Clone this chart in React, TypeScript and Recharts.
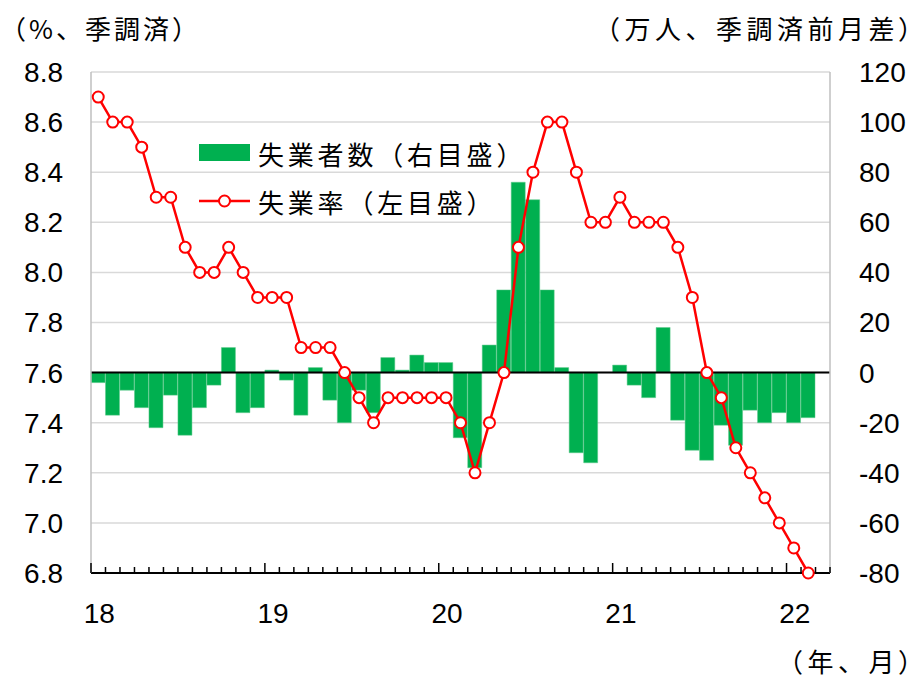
import { Bar, CartesianGrid, ComposedChart, Legend, Line, ReferenceLine, XAxis, YAxis } from 'recharts'

// months Jan 2018 .. Mar 2022 (last slot is empty)
const months = [
  '18/01', '18/02', '18/03', '18/04', '18/05', '18/06', '18/07', '18/08', '18/09', '18/10', '18/11', '18/12',
  '19/01', '19/02', '19/03', '19/04', '19/05', '19/06', '19/07', '19/08', '19/09', '19/10', '19/11', '19/12',
  '20/01', '20/02', '20/03', '20/04', '20/05', '20/06', '20/07', '20/08', '20/09', '20/10', '20/11', '20/12',
  '21/01', '21/02', '21/03', '21/04', '21/05', '21/06', '21/07', '21/08', '21/09', '21/10', '21/11', '21/12',
  '22/01', '22/02', '22/03',
]

// 失業率 (%, left axis)
const unemploymentRate = [
  8.7, 8.6, 8.6, 8.5, 8.3, 8.3, 8.1, 8.0, 8.0, 8.1, 8.0, 7.9,
  7.9, 7.9, 7.7, 7.7, 7.7, 7.6, 7.5, 7.4, 7.5, 7.5, 7.5, 7.5,
  7.5, 7.4, 7.2, 7.4, 7.6, 8.1, 8.4, 8.6, 8.6, 8.4, 8.2, 8.2,
  8.3, 8.2, 8.2, 8.2, 8.1, 7.9, 7.6, 7.5, 7.3, 7.2, 7.1, 7.0,
  6.9, 6.8,
]

// 失業者数 前月差 (万人, right axis)
const unemployedChange = [
  -4, -17, -7, -14, -22, -9, -25, -14, -5, 10, -16, -14,
  1, -3, -17, 2, -11, -20, -7, -16, 6, 1, 7, 4,
  4, -26, -38, 11, 33, 76, 69, 33, 2, -32, -36, 0,
  3, -5, -10, 18, -19, -31, -35, -21, -29, -15, -20, -16,
  -20, -18,
]

const leftTicks = [6.8, 7.0, 7.2, 7.4, 7.6, 7.8, 8.0, 8.2, 8.4, 8.6, 8.8]
const rightTicks = [-80, -60, -40, -20, 0, 20, 40, 60, 80, 100, 120]

const data = months.map((m, i) => ({
  month: m,
  rate: unemploymentRate[i],
  change: unemployedChange[i],
}))

const JP_FONT = '"Noto Sans CJK JP", "Noto Sans", sans-serif'
const NUM_FONT = '"Liberation Sans", Arial, sans-serif'

const noteStyle = {
  position: 'absolute' as const,
  fontFamily: JP_FONT,
  fontSize: 26,
  letterSpacing: 3,
  lineHeight: '30px',
  color: '#000',
  whiteSpace: 'nowrap' as const,
}

// closing paren without trailing blank, so right-aligned notes end at the ink
const tightParen = { fontFeatureSettings: '"palt"', letterSpacing: 0 }

function MonthTick(props: any) {
  const { x, y, payload, index, visibleTicksCount, width } = props
  const half = typeof payload.offset === 'number' && payload.offset > 0 ? payload.offset : width / visibleTicksCount / 2
  const [yy, mm] = String(payload.value).split('/')
  const isJan = mm === '01'
  const left = x - half
  return (
    <g>
      <line x1={left} x2={left} y1={y} y2={y - (isJan ? 10 : 6)} stroke="#000" strokeWidth={1.5} />
      {index === visibleTicksCount - 1 && (
        <line x1={x + half} x2={x + half} y1={y} y2={y - 6} stroke="#000" strokeWidth={1.5} />
      )}
      {isJan && (
        <text x={x + 1} y={y + 50} textAnchor="middle" fontSize={28} fill="#000" fontFamily={NUM_FONT}>
          {yy}
        </text>
      )}
    </g>
  )
}

function LegendBox() {
  const row = { display: 'flex', alignItems: 'center', height: 32, fontFamily: JP_FONT, fontSize: 26, letterSpacing: 3.8, color: '#000', whiteSpace: 'nowrap' as const }
  return (
    <div>
      <div style={row}>
        <svg width={59} height={32}>
          <rect x={0} y={7} width={51} height={17} fill="#00b050" />
        </svg>
        <span>失業者数（右目盛）</span>
      </div>
      <div style={{ ...row, marginTop: 16 }}>
        <svg width={59} height={32}>
          <line x1={0} x2={51} y1={16} y2={16} stroke="#ff0000" strokeWidth={2.5} />
          <circle cx={25.5} cy={16} r={5.5} fill="#fff" stroke="#ff0000" strokeWidth={2} />
        </svg>
        <span>失業率（左目盛）</span>
      </div>
    </div>
  )
}

export default function App() {
  return (
    <div style={{ position: 'absolute', left: 0, top: 0, width: 916, height: 681, background: '#fff', overflow: 'hidden' }}>
      <div style={{ ...noteStyle, left: 0, top: 13 }}>（%、季調済）</div>
      <div style={{ ...noteStyle, right: 4, top: 13, letterSpacing: 4.5 }}>
        （万人、季調済前月差<span style={tightParen}>）</span>
      </div>
      <div style={{ ...noteStyle, right: 4, top: 646, letterSpacing: 4.5 }}>
        （年、月<span style={tightParen}>）</span>
      </div>
      <ComposedChart
        width={916}
        height={681}
        data={data}
        margin={{ top: 72, right: 0, bottom: 48, left: 0 }}
        barCategoryGap={0}
        barGap={0}
      >
        <CartesianGrid yAxisId="left" vertical={false} stroke="#d9d9d9" strokeWidth={1.5} />
        <XAxis
          dataKey="month"
          interval={0}
          height={60}
          tickSize={0}
          tickMargin={0}
          tickLine={false}
          axisLine={{ stroke: '#000', strokeWidth: 2 }}
          tick={<MonthTick />}
        />
        <YAxis
          yAxisId="left"
          width={91}
          domain={[6.8, 8.8]}
          ticks={leftTicks}
          interval={0}
          tickSize={0}
          tickMargin={28}
          tickLine={false}
          axisLine={{ stroke: '#bfbfbf', strokeWidth: 1.5 }}
          tickFormatter={(v: number) => v.toFixed(1)}
          tick={{ fontSize: 28, fill: '#000', fontFamily: NUM_FONT }}
        />
        <YAxis
          yAxisId="right"
          orientation="right"
          width={86}
          domain={[-80, 120]}
          ticks={rightTicks}
          interval={0}
          tickSize={0}
          tickMargin={29}
          tickLine={false}
          axisLine={{ stroke: '#bfbfbf', strokeWidth: 1.5 }}
          tick={{ fontSize: 28, fill: '#000', fontFamily: NUM_FONT }}
        />
        <Legend
          layout="horizontal"
          verticalAlign="middle"
          align="center"
          wrapperStyle={{ left: 199, top: 137, width: 380, height: 96 }}
          content={() => <LegendBox />}
        />
        <Bar yAxisId="right" dataKey="change" fill="#00b050" stroke="#5cc98a" strokeWidth={0.5} isAnimationActive={false} />
        <ReferenceLine yAxisId="right" y={0} stroke="#000" strokeWidth={2} />
        <Line
          yAxisId="left"
          dataKey="rate"
          type="linear"
          stroke="#ff0000"
          strokeWidth={2.5}
          dot={{ r: 5.5, fill: '#fff', stroke: '#ff0000', strokeWidth: 2 }}
          isAnimationActive={false}
        />
      </ComposedChart>
    </div>
  )
}
